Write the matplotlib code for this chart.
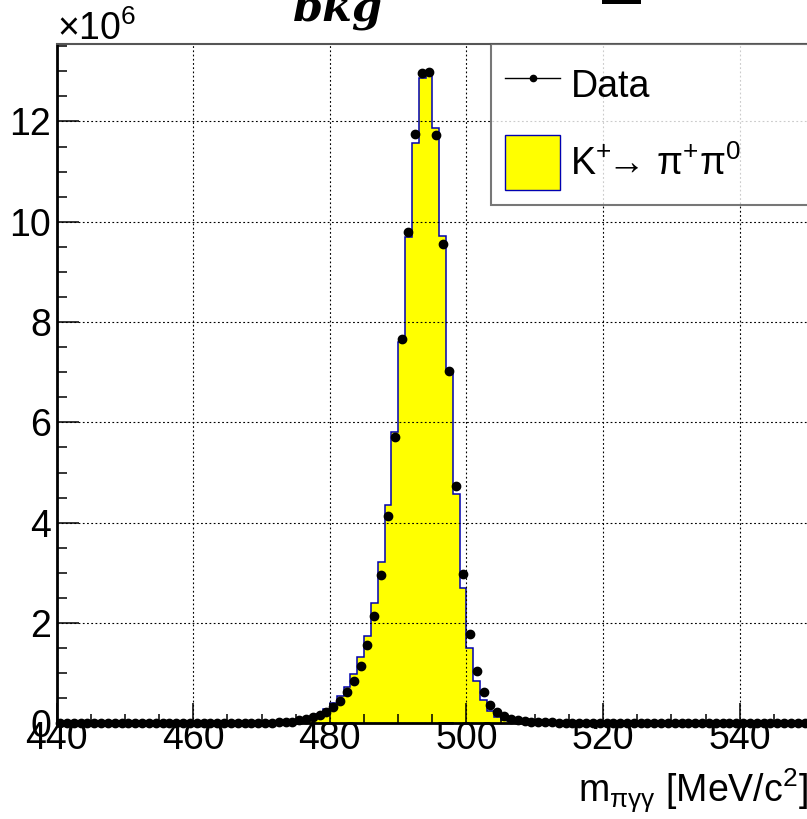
import numpy as np
import matplotlib
matplotlib.use("Agg")
import matplotlib.pyplot as plt
from matplotlib.lines import Line2D
from matplotlib.patches import Patch, Rectangle
from matplotlib.ticker import MultipleLocator, FuncFormatter

plt.rcParams['font.family'] = ['Liberation Sans', 'DejaVu Sans']
plt.rcParams['mathtext.fontset'] = 'custom'
plt.rcParams['mathtext.rm'] = 'Liberation Sans'
plt.rcParams['mathtext.it'] = 'Liberation Sans:italic'
plt.rcParams['mathtext.bf'] = 'Liberation Sans:bold'

# ---- data (units of 1e6 entries per 1 MeV bin) ----
bin_edges = np.arange(440, 551, 1)

data_vals = [
    0.004, 0.004, 0.004, 0.004, 0.005, 0.005, 0.005, 0.005, 0.005, 0.006,   # 440-449
    0.006, 0.006, 0.006, 0.007, 0.007, 0.007, 0.007, 0.008, 0.008, 0.008,   # 450-459
    0.008, 0.009, 0.009, 0.009, 0.010, 0.010, 0.011, 0.011, 0.012, 0.012,   # 460-469
    0.013, 0.015, 0.018, 0.022, 0.030, 0.060, 0.086, 0.120, 0.170, 0.230,   # 470-479
    0.330, 0.450, 0.620, 0.840, 1.140, 1.560, 2.140, 2.960, 4.130, 5.700,   # 480-489
    7.660, 9.800, 11.75, 12.96, 12.98, 11.72, 9.550, 7.030, 4.730, 2.970,   # 490-499
    1.780, 1.050, 0.620, 0.370, 0.225, 0.146, 0.090, 0.060, 0.040, 0.030,   # 500-509
    0.025, 0.020, 0.017, 0.014, 0.012, 0.010, 0.009, 0.009, 0.008, 0.008,   # 510-519
    0.007, 0.007, 0.007, 0.006, 0.006, 0.006, 0.006, 0.005, 0.005, 0.005,   # 520-529
    0.005, 0.005, 0.005, 0.004, 0.004, 0.004, 0.004, 0.004, 0.004, 0.004,   # 530-539
    0.004, 0.004, 0.003, 0.003, 0.003, 0.003, 0.003, 0.003, 0.003, 0.003,   # 540-549
]

mc_vals = [
    0.002, 0.002, 0.002, 0.002, 0.002, 0.002, 0.002, 0.003, 0.003, 0.003,   # 440-449
    0.003, 0.003, 0.003, 0.003, 0.004, 0.004, 0.004, 0.004, 0.004, 0.005,   # 450-459
    0.005, 0.005, 0.006, 0.006, 0.006, 0.007, 0.008, 0.009, 0.010, 0.012,   # 460-469
    0.014, 0.017, 0.020, 0.030, 0.040, 0.060, 0.090, 0.130, 0.190, 0.280,   # 470-479
    0.400, 0.540, 0.720, 0.980, 1.330, 1.740, 2.390, 3.220, 4.350, 5.800,   # 480-489
    7.600, 9.690, 11.57, 12.86, 12.99, 11.86, 9.720, 7.000, 4.570, 2.690,   # 490-499
    1.510, 0.840, 0.460, 0.250, 0.130, 0.070, 0.040, 0.025, 0.015, 0.010,   # 500-509
    0.008, 0.007, 0.006, 0.005, 0.005, 0.004, 0.004, 0.003, 0.003, 0.003,   # 510-519
    0.003, 0.003, 0.002, 0.002, 0.002, 0.002, 0.002, 0.002, 0.002, 0.002,   # 520-529
    0.002, 0.002, 0.002, 0.002, 0.001, 0.001, 0.001, 0.001, 0.001, 0.001,   # 530-539
    0.001, 0.001, 0.001, 0.001, 0.001, 0.001, 0.001, 0.001, 0.001, 0.001,   # 540-549
]

data_counts = np.array(data_vals) * 1e6
mc_counts = np.array(mc_vals) * 1e6
centers = 0.5 * (bin_edges[:-1] + bin_edges[1:])

x_label = r'm$_{\mathrm{\pi\gamma\gamma}}$ [MeV/c$^{2}$]'
legend_labels = ['Data', r'K$^{+}\!\!\rightarrow\!$ $\mathrm{\pi}^{+}\mathrm{\pi}^{0}$']
title_text = 'bkg'

W, H = 807, 819
fig = plt.figure(figsize=(W / 100, H / 100), dpi=100)
ax_left, ax_right = 56.7, 808.0
ax_top, ax_bot = 43.7, 723.3
ax = fig.add_axes([ax_left / W, 1 - ax_bot / H, (ax_right - ax_left) / W, (ax_bot - ax_top) / H])

FS = 27

ax.stairs(mc_counts, bin_edges, fill=True, color='#ffff00', zorder=1)
ax.stairs(mc_counts, bin_edges, color='#0000b0', lw=1.1, zorder=1.5)
ax.plot(centers, data_counts, 'o', ms=6.0, color='black', zorder=3, clip_on=False)

ax.set_xlim(440, 550)
ax.set_ylim(0, 13.55e6)

ax.set_axisbelow(False)
ax.grid(True, which='major', color='black', lw=0.8, ls=(0, (1.6, 2.2)))

ax.xaxis.set_major_locator(MultipleLocator(20))
ax.xaxis.set_minor_locator(MultipleLocator(5))
ax.yaxis.set_major_locator(MultipleLocator(2e6))
ax.yaxis.set_minor_locator(MultipleLocator(0.5e6))
ax.yaxis.set_major_formatter(FuncFormatter(lambda v, p: f'{v/1e6:.0f}'))

ax.tick_params(axis='both', which='both', direction='in', top=False, right=False,
               labelsize=FS, colors='black')
ax.tick_params(axis='x', which='major', length=14.5, width=1.1, pad=-2)
ax.tick_params(axis='x', which='minor', length=6.5, width=1.1)
ax.tick_params(axis='y', which='major', length=15.5, width=1.1, pad=4)
ax.tick_params(axis='y', which='minor', length=7.5, width=1.1)

for s in ['left', 'bottom']:
    ax.spines[s].set_linewidth(2.0)
    ax.spines[s].set_color('black')
ax.spines['top'].set_linewidth(1.5)
ax.spines['top'].set_color('#555555')
ax.spines['right'].set_visible(False)

ax.set_xlabel(x_label, fontsize=FS, loc='right', labelpad=7)

# multiplier
fig.text(ax_left / W, 1 - 40 / H, r'$\times$10$^{6}$', fontsize=FS, ha='left', va='baseline')

# title (partially cut at top)
fig.text(338 / W, 1 - 21 / H, title_text, fontsize=31, family='DejaVu Serif',
         style='italic', weight='bold', ha='center', va='baseline')
fig.add_artist(Rectangle((602 / W, 1 - 4 / H), 39 / W, 5 / H, transform=fig.transFigure,
                         color='black', lw=0))

handles = [Line2D([], [], color='black', lw=1.0, marker='o', ms=4.5),
           Patch(facecolor='#ffff00', edgecolor='#0000b0', lw=1.0)]
x0 = (491 - ax_left) / (ax_right - ax_left)
leg = ax.legend(handles, legend_labels, loc='upper left',
                bbox_to_anchor=(x0, 1.0, 1.2, 0), mode='expand',
                fontsize=FS, frameon=True, fancybox=False, borderpad=0.38,
                labelspacing=0.6, handlelength=1.47, handleheight=1.88,
                handletextpad=0.27, borderaxespad=0)
leg.get_frame().set_edgecolor('#555555')
leg.get_frame().set_linewidth(1.5)
leg.set_zorder(5)

fig.savefig('out.png', dpi=100)
